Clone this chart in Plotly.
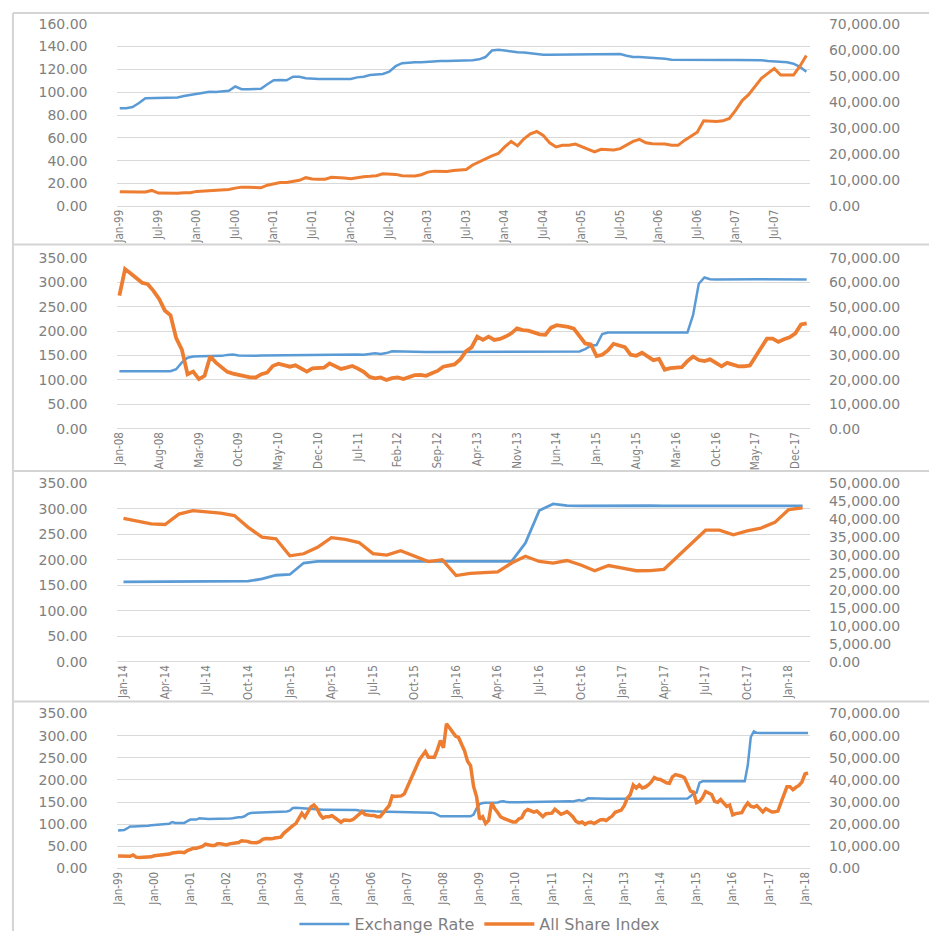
import pandas as pd
import plotly.graph_objects as go

# Monthly observations, Jan-1999 .. Feb-2018
months = pd.date_range("1999-01-01", periods=230, freq="MS").strftime("%b-%y").tolist()

# Naira / US dollar exchange rate (left axis)
exchange_rate = [
    86.0, 86.0, 87.0, 90.5, 94.8, 95.0, 95.0, 95.0, 95.0, 95.3, 96.7, 97.6,            # 1999
    98.5, 99.6, 100.5, 100.2, 100.7, 101.3, 105.0, 102.7, 102.5, 102.5, 103.0, 107.0,  # 2000
    110.5, 110.8, 110.5, 113.6, 113.6, 112.2, 111.6, 111.6, 111.6, 111.6, 111.6, 111.6,  # 2001
    111.6, 113.0, 113.6, 115.0, 115.6, 116.0, 118.0, 122.8, 125.4, 126.0, 126.2, 126.2,  # 2002
    126.8, 127.4, 127.4, 127.4, 127.4, 127.4, 127.6, 127.9, 128.8, 130.8, 136.5, 137.1,  # 2003
    136.5, 135.6, 135.0, 134.7, 133.9, 133.4, 132.8, 132.8, 132.8, 132.8, 132.8, 132.8,  # 2004
    132.8, 132.8, 132.8, 132.8, 132.8, 132.8, 133.4, 132.0, 130.8, 130.8, 130.5, 130.5,  # 2005
    130.2, 129.4, 128.5, 128.4, 128.3, 128.3, 128.3, 128.3, 128.3, 128.2, 128.2, 128.2,  # 2006
    128.2, 128.2, 128.2, 128.0, 128.0, 127.4, 127.1, 127.1, 126.2, 125.0, 122.2, 117.9,  # 2007
    118.0, 118.0, 118.0, 118.0, 118.0, 118.0, 118.0, 118.0, 118.0, 118.0, 122.0, 136.0,  # 2008
    145.5, 148.0, 148.5, 148.5, 148.6, 148.8, 149.3, 151.3, 152.0, 150.0, 149.5, 149.5,  # 2009
    149.5, 149.8, 150.0, 150.2, 150.0, 150.0, 150.2, 150.4, 150.8, 150.5, 150.6, 150.8,  # 2010
    151.0, 151.5, 152.0, 152.5, 153.0, 153.3, 152.0, 151.5, 153.0, 154.6, 153.2, 155.0,  # 2011
    158.6, 158.2, 157.5, 157.3, 157.3, 157.3, 157.3, 157.3, 157.3, 157.3, 157.3, 157.3,  # 2012
    157.0, 156.9, 156.8, 156.8, 156.8, 156.8, 156.9, 157.0, 157.0, 157.0, 157.0, 157.0,  # 2013
    157.0, 157.0, 157.0, 157.0, 157.0, 157.0, 157.0, 157.0, 157.0, 158.3, 163.0, 170.0,  # 2014
    171.5, 194.0, 197.0, 197.0, 197.0, 197.0, 197.0, 197.0, 197.0, 197.0, 197.0, 197.0,  # 2015
    197.0, 197.0, 197.0, 197.0, 197.0, 233.0, 297.0, 309.8, 306.3, 305.8, 305.6, 305.5,  # 2016
    305.7, 306.0, 306.2, 306.1, 305.9, 305.9, 306.0, 305.9, 305.8, 305.8, 305.9, 305.9,  # 2017
    305.8, 305.8,                                                                      # 2018
]

# All Share Index (right axis)
all_share_index = [
    5630, 5510, 5510, 5510, 5510, 6130, 5130, 5010, 5010, 5010, 5260, 5260,            # 1999
    5760, 5880, 6010, 6010, 6130, 6510, 7010, 7390, 7390, 7390, 7140, 8140,            # 2000
    8760, 9140, 9140, 9510, 10020, 11020, 10520, 10390, 10390, 11140, 11140, 10890,    # 2001
    10640, 11140, 11390, 11520, 11770, 12520, 12520, 12270, 11770, 11640, 11640, 12140,  # 2002
    13150, 13520, 13400, 13400, 13770, 14020, 14150, 15900, 17150, 18400, 19400, 20280,  # 2003
    22800, 24900, 23200, 25900, 27800, 28700, 27200, 24400, 22800, 23400, 23400, 23900,  # 2004
    22800, 21900, 20900, 21900, 21650, 21650, 22150, 23400, 24900, 25700, 24400, 24000,  # 2005
    23900, 23900, 23400, 23400, 25300, 26800, 28400, 32800, 32550, 32550, 32800, 33700,  # 2006
    36900, 40560, 42800, 45950, 49100, 50950, 52830, 50300, 50300, 50300, 53700, 57840,  # 2007
    54500, 65400, 63600, 61600, 59800, 59200, 56500, 53150, 48450, 46450, 37100, 32400,  # 2008
    22350, 23400, 20350, 21700, 29700, 27040, 25300, 23300, 22620, 22090, 21690, 21020,  # 2009
    21000, 22350, 23000, 25700, 26640, 26100, 25430, 25970, 24630, 23430, 24770, 25030,  # 2010
    25000, 26770, 25700, 24500, 25030, 25700, 24630, 23290, 21290, 20620, 21020, 19950,  # 2011
    20750, 21020, 20350, 21020, 21950, 22090, 21690, 22760, 23690, 25430, 26100, 26370,  # 2012
    28380, 31730, 33330, 37750, 36400, 37750, 36400, 36800, 37750, 39090, 41100, 40420,  # 2013
    40200, 39500, 38700, 38500, 41400, 42400, 42150, 41700, 41000, 37700, 34950, 34500,  # 2014
    29740, 30300, 32100, 34800, 34300, 33450, 30350, 29900, 31150, 29600, 28100, 28650,  # 2015
    24200, 24800, 25100, 25200, 27700, 29600, 28150, 27700, 28400, 27150, 25550, 27000,  # 2016
    26250, 25550, 25600, 25950, 29600, 33250, 36900, 36900, 35600, 36700, 37500, 39100,  # 2017
    42700, 43150,                                                                      # 2018
]

W, H = 931, 941
BLUE, ORANGE = "#5B9BD5", "#ED7D31"
GRID = "#D9D9D9"
TEXT = "#7F7F7F"
TICK_FONT = dict(family="DejaVu Sans", size=14, color=TEXT)
XTICK_FONT = dict(family="Liberation Sans Narrow, DejaVu Sans Condensed, Liberation Sans", size=11.5, color=TEXT)

PLOT_LEFT, PLOT_RIGHT = 111.5, 810.5
RIGHT_LABELS_AT = 829


def fx(p):
    return p / W


def fy(p):
    return 1 - p / H


# slice of the monthly series, tick step, axis scales, vertical extent (px), line widths
panels = [
    dict(start=0, stop=108, step=6, left=(160, 20), right=(70000, 10000), top=16, bottom=202.3, w_er=2.5, w_asi=3.0),
    dict(start=108, stop=230, step=7, left=(350, 50), right=(70000, 10000), top=254.7, bottom=429.0, w_er=2.5, w_asi=3.8),
    dict(start=180, stop=230, step=3, left=(350, 50), right=(50000, 5000), top=484.7, bottom=666.7, w_er=2.8, w_asi=3.3),
    dict(start=0, stop=230, step=12, left=(350, 50), right=(70000, 10000), top=719.3, bottom=877.3, w_er=2.5, w_asi=3.5),
]

fig = go.Figure()
layout = {}

for i, p in enumerate(panels):
    k = i + 1
    xa = "x" if k == 1 else f"x{k}"
    yl_n, yr_n = 2 * k - 1, 2 * k
    yl = "y" if yl_n == 1 else f"y{yl_n}"
    yr = f"y{yr_n}"
    last = i == len(panels) - 1

    x = months[p["start"]:p["stop"]]
    n = len(x)
    fig.add_trace(go.Scatter(
        x=x, y=exchange_rate[p["start"]:p["stop"]], xaxis=xa, yaxis=yl,
        mode="lines", name="Exchange Rate", line=dict(color=BLUE, width=p["w_er"]),
        showlegend=last, legendrank=1,
    ))
    fig.add_trace(go.Scatter(
        x=x, y=all_share_index[p["start"]:p["stop"]], xaxis=xa, yaxis=yr,
        mode="lines", name="All Share Index", line=dict(color=ORANGE, width=p["w_asi"]),
        showlegend=last, legendrank=2,
    ))

    dom_y = [fy(p["bottom"]), fy(p["top"])]
    layout["xaxis" if k == 1 else f"xaxis{k}"] = dict(
        domain=[fx(PLOT_LEFT), fx(PLOT_RIGHT)], anchor=yl, type="category",
        range=[-0.5, n - 0.5], tickmode="array", tickvals=x[::p["step"]],
        tickangle=-90, tickfont=XTICK_FONT, showgrid=False, showline=False,
        zeroline=False, ticks="", fixedrange=True,
    )
    ltop, ldt = p["left"]
    layout["yaxis" if yl_n == 1 else f"yaxis{yl_n}"] = dict(
        domain=dom_y, anchor=xa, range=[0, ltop], dtick=ldt, tick0=0,
        tickformat=".2f", tickfont=TICK_FONT, showgrid=True, gridcolor=GRID,
        gridwidth=1, zeroline=True, zerolinecolor=GRID, zerolinewidth=1,
        showline=False, ticks="", ticklabelstandoff=28,
    )
    rtop, rdt = p["right"]
    layout[f"yaxis{yr_n}"] = dict(
        domain=dom_y, anchor="free", position=fx(RIGHT_LABELS_AT),
        overlaying=yl, side="right",
        range=[0, rtop], dtick=rdt, tick0=0, tickformat=",.2f",
        tickfont=TICK_FONT, showgrid=False, zeroline=False, showline=False,
        ticks="",
    )

# chart frames around the four stacked panels
frame = dict(type="line", xref="paper", yref="paper", line=dict(color="#D4D4D4", width=2))
shapes = [dict(frame, x0=fx(7), x1=1, y0=fy(yy), y1=fy(yy)) for yy in (5, 241, 472, 707)]
shapes.append(dict(frame, x0=fx(7), x1=fx(7), y0=fy(5), y1=0))

fig.update_layout(
    width=W, height=H,
    margin=dict(l=0, r=0, t=0, b=0),
    paper_bgcolor="white", plot_bgcolor="white",
    shapes=shapes,
    showlegend=True,
    legend=dict(
        orientation="h", x=fx(478), xanchor="center", y=fy(934), yanchor="middle",
        font=dict(family="DejaVu Sans", size=16, color=TEXT),
        bgcolor="rgba(0,0,0,0)", itemwidth=50,
    ),
    **layout,
)

fig.write_html("out.html")
